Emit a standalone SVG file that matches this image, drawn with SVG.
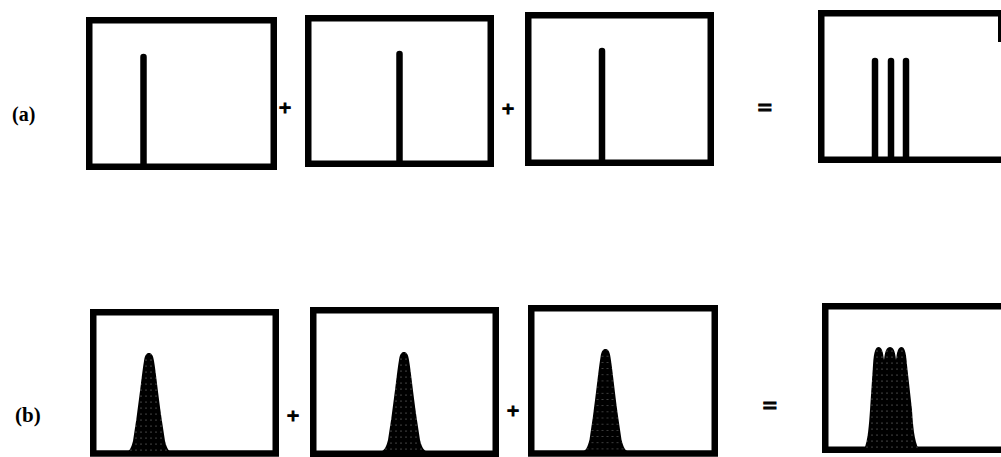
<svg xmlns="http://www.w3.org/2000/svg" width="1001" height="457" viewBox="0 0 1001 457">
<style>
.box{fill:none;stroke:#000;stroke-width:6.5;stroke-linejoin:miter}
.spike{stroke:#000;stroke-width:6.5;stroke-linecap:round;fill:none}
.lbl{font-family:"Liberation Serif","Times New Roman",serif;font-weight:bold;fill:#000}
.op{font-family:"Liberation Serif","Times New Roman",serif;font-weight:bold;fill:#000;stroke:#000;stroke-width:1.2;text-anchor:middle}
.peak{fill:url(#stip)}
</style>
<defs>
<pattern id="stip" width="5" height="6" patternUnits="userSpaceOnUse">
<rect width="5" height="6" fill="#000"/>
<circle cx="2" cy="3" r="0.5" fill="#fff" fill-opacity="0.7"/>
</pattern>
<path id="pk" d="M -25,0 C -19,-1 -18,-5 -16,-12 L -12.5,-35 C -9,-60 -7,-80 -5,-92 C -4,-99 -2,-100 0,-100 C 2,-100 4,-99 5,-92 C 7,-80 9,-60 12.5,-35 L 16,-12 C 18,-5 19,-1 25,0 Z"/>
</defs>
<g id="labels">
<text class="lbl" x="12" y="121" font-size="20">(a)</text>
<text class="lbl" x="15" y="422" font-size="21">(b)</text>
</g>
<g id="a1">
<rect class="box" x="89.25" y="20.25" width="184.5" height="146.5"/>
<path class="spike" d="M143.5,165 V57"/>
</g>
<g id="a2">
<rect class="box" x="308.25" y="18.25" width="182.5" height="145.5"/>
<path class="spike" d="M399.5,162 V54"/>
</g>
<g id="a3">
<rect class="box" x="528.25" y="15.25" width="182.5" height="147.5"/>
<path class="spike" d="M602,161 V51"/>
</g>
<g id="a4">
<rect class="box" x="821.25" y="13.25" width="195" height="146.5"/>
<path class="spike" d="M875,158 V61"/>
<path class="spike" d="M891,158 V61"/>
<path class="spike" d="M906,158 V61"/>
<rect x="998" y="13" width="3" height="29" fill="#000"/>
</g>
<g id="b1">
<rect class="box" x="93.25" y="312.25" width="182.5" height="141.25"/>
<use href="#pk" class="peak" transform="translate(149,453)"/>
</g>
<g id="b2">
<rect class="box" x="313.25" y="310.25" width="182.5" height="143.5"/>
<use href="#pk" class="peak" transform="translate(404,452)"/>
</g>
<g id="b3">
<rect class="box" x="531.25" y="308.25" width="183.5" height="145.25"/>
<use href="#pk" class="peak" transform="translate(605.5,452) scale(1,1.03)"/>
</g>
<g id="b4">
<rect class="box" x="825.25" y="306.25" width="195" height="143.5"/>
<path class="peak" d="M864,450 C868,440 869,425 870,410 L873,365 C874,350 876,347 878.5,347 C882,347 883,352 884,360 C885,350 887,347 890,347 C893,347 895,350 896,360 C897,352 898,347 901.5,347 C904,347 906,350 907,365 L912,410 C913,425 914,440 919,450 Z"/>
</g>
<g id="operators">
<text class="op" x="285" y="114.5" font-size="22">+</text>
<text class="op" x="508" y="115.5" font-size="22">+</text>
<text class="op" x="765" y="116" font-size="26">=</text>
<text class="op" x="293" y="422.5" font-size="22">+</text>
<text class="op" x="513" y="417.5" font-size="22">+</text>
<text class="op" x="770" y="414" font-size="26">=</text>
</g>
<g id="connectors"/>
</svg>
